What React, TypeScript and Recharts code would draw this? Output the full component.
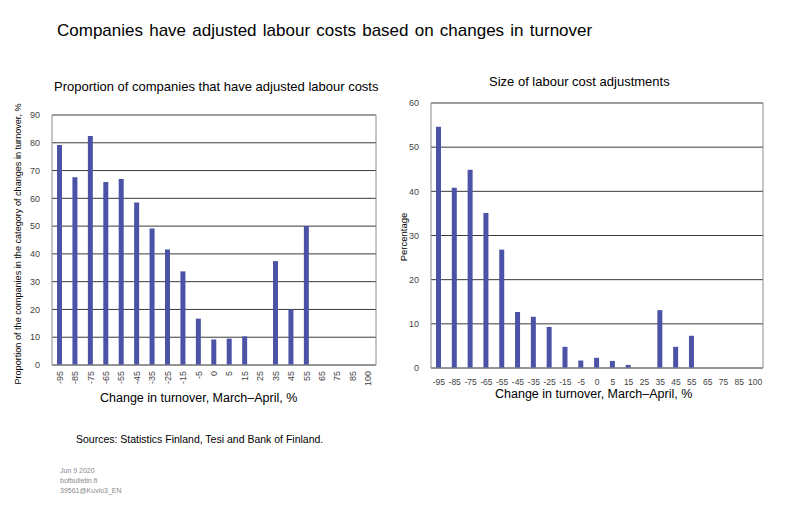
import React from 'react';
import { BarChart, Bar, XAxis, YAxis, CartesianGrid } from 'recharts';

// Muutos liikevaihdossa, maalis–huhtikuu
const categories = ['-95', '-85', '-75', '-65', '-55', '-45', '-35', '-25', '-15', '-5', '0', '5', '15', '25', '35', '45', '55', '65', '75', '85', '100'];
const shareAdjusted = [79.2, 67.6, 82.4, 65.9, 67, 58.5, 49.1, 41.6, 33.7, 16.7, 9.2, 9.5, 10.3, null, 37.4, 20, 50, null, null, null, null];
const adjustmentSize = [54.6, 40.8, 44.9, 35.1, 26.8, 12.7, 11.6, 9.3, 4.8, 1.7, 2.3, 1.6, 0.7, null, 13.1, 4.8, 7.3, null, null, null, null];
const leftTicks = [0, 10, 20, 30, 40, 50, 60, 70, 80, 90];
const rightTicks = [0, 10, 20, 30, 40, 50, 60];

const leftData = categories.map((c, i) => ({ cat: c, value: shareAdjusted[i] }));
const rightData = categories.map((c, i) => ({ cat: c, value: adjustmentSize[i] }));

const FONT = 'Arial, "Liberation Sans", sans-serif';
const BAR = '#4b53a6';
const GRID = '#3a3a3a';
const BORDER = '#8c8c8c';
const TICK = '#444444';

function RotatedTick(props: any) {
  const { x, y, payload } = props;
  return (
    <text
      x={0}
      y={0}
      transform={`translate(${x + 3},${y - 2}) rotate(-90)`}
      textAnchor="end"
      fontSize={9}
      fill={TICK}
      fontFamily={FONT}
    >
      {payload.value}
    </text>
  );
}

// oikea reunaviiva
const rightEdge = ({ offset }: any) => [offset.left + offset.width];

export default function App() {
  return (
    <div style={{ position: 'absolute', left: 0, top: 0, width: 800, height: 522, background: '#fff', fontFamily: FONT }}>
      <div style={{ position: 'absolute', left: 57, top: 21, fontSize: 17, color: '#000', whiteSpace: 'nowrap', wordSpacing: 1.5 }}>
        Companies have adjusted labour costs based on changes in turnover
      </div>
      <div style={{ position: 'absolute', left: 54, top: 79, fontSize: 13, color: '#000', whiteSpace: 'nowrap' }}>
        Proportion of companies that have adjusted labour costs
      </div>
      <div style={{ position: 'absolute', left: 489, top: 74, fontSize: 13, color: '#000', whiteSpace: 'nowrap' }}>
        Size of labour cost adjustments
      </div>

      {/* vasen kuvio */}
      <div style={{ position: 'absolute', left: 0, top: 100 }}>
        <BarChart width={390} height={310} data={leftData} margin={{ top: 15, right: 14, bottom: 0, left: 0 }} barSize={5}>
          <CartesianGrid vertical={false} stroke={GRID} strokeDasharray="" />
          <CartesianGrid horizontal={false} verticalCoordinatesGenerator={rightEdge} stroke={BORDER} strokeDasharray="" />
          <XAxis
            dataKey="cat"
            interval={0}
            height={45}
            tick={<RotatedTick />}
            tickLine={false}
            axisLine={{ stroke: BORDER }}
          />
          <YAxis
            domain={[0, 90]}
            ticks={leftTicks}
            width={52}
            tickLine={false}
            axisLine={{ stroke: BORDER }}
            tick={{ fontSize: 9, fill: TICK, fontFamily: FONT }}
            tickMargin={6}
          />
          <Bar dataKey="value" fill={BAR} isAnimationActive={false} />
        </BarChart>
      </div>
      <div
        style={{
          position: 'absolute',
          left: 18,
          top: 244,
          transform: 'translate(-50%, -50%) rotate(-90deg)',
          fontSize: 9.1,
          color: '#000',
          whiteSpace: 'nowrap',
        }}
      >
        Proportion of the companies in the category of changes in turnover, %
      </div>
      <div style={{ position: 'absolute', left: 100, top: 391, fontSize: 12.5, color: '#000', whiteSpace: 'nowrap' }}>
        Change in turnover, March–April, %
      </div>

      {/* oikea kuvio */}
      <div style={{ position: 'absolute', left: 390, top: 90 }}>
        <BarChart width={400} height={320} data={rightData} margin={{ top: 13, right: 27, bottom: 0, left: 0 }} barSize={5}>
          <CartesianGrid vertical={false} stroke={GRID} strokeDasharray="" />
          <CartesianGrid horizontal={false} verticalCoordinatesGenerator={rightEdge} stroke={BORDER} strokeDasharray="" />
          <XAxis
            dataKey="cat"
            interval={0}
            height={42}
            tickLine={false}
            axisLine={{ stroke: BORDER }}
            tick={{ fontSize: 8.5, fill: TICK, fontFamily: FONT }}
            tickMargin={5}
          />
          <YAxis
            domain={[0, 60]}
            ticks={rightTicks}
            width={41}
            tickLine={false}
            axisLine={{ stroke: BORDER }}
            tick={{ fontSize: 9, fill: TICK, fontFamily: FONT }}
            tickMargin={6}
          />
          <Bar dataKey="value" fill={BAR} isAnimationActive={false} />
        </BarChart>
      </div>
      <div
        style={{
          position: 'absolute',
          left: 403,
          top: 237,
          transform: 'translate(-50%, -50%) rotate(-90deg)',
          fontSize: 9.5,
          color: '#000',
          whiteSpace: 'nowrap',
        }}
      >
        Percentage
      </div>
      <div style={{ position: 'absolute', left: 495, top: 387, fontSize: 12.5, color: '#000', whiteSpace: 'nowrap' }}>
        Change in turnover, March–April, %
      </div>

      <div style={{ position: 'absolute', left: 76, top: 433, fontSize: 10.5, color: '#000', whiteSpace: 'nowrap' }}>
        Sources: Statistics Finland, Tesi and Bank of Finland.
      </div>
      <div style={{ position: 'absolute', left: 60, top: 466, fontSize: 7, lineHeight: '10px', color: '#8a8a8a' }}>
        <div>Jun 9 2020</div>
        <div>bofbulletin.fi</div>
        <div>39561@Kuvio3_EN</div>
      </div>
    </div>
  );
}
